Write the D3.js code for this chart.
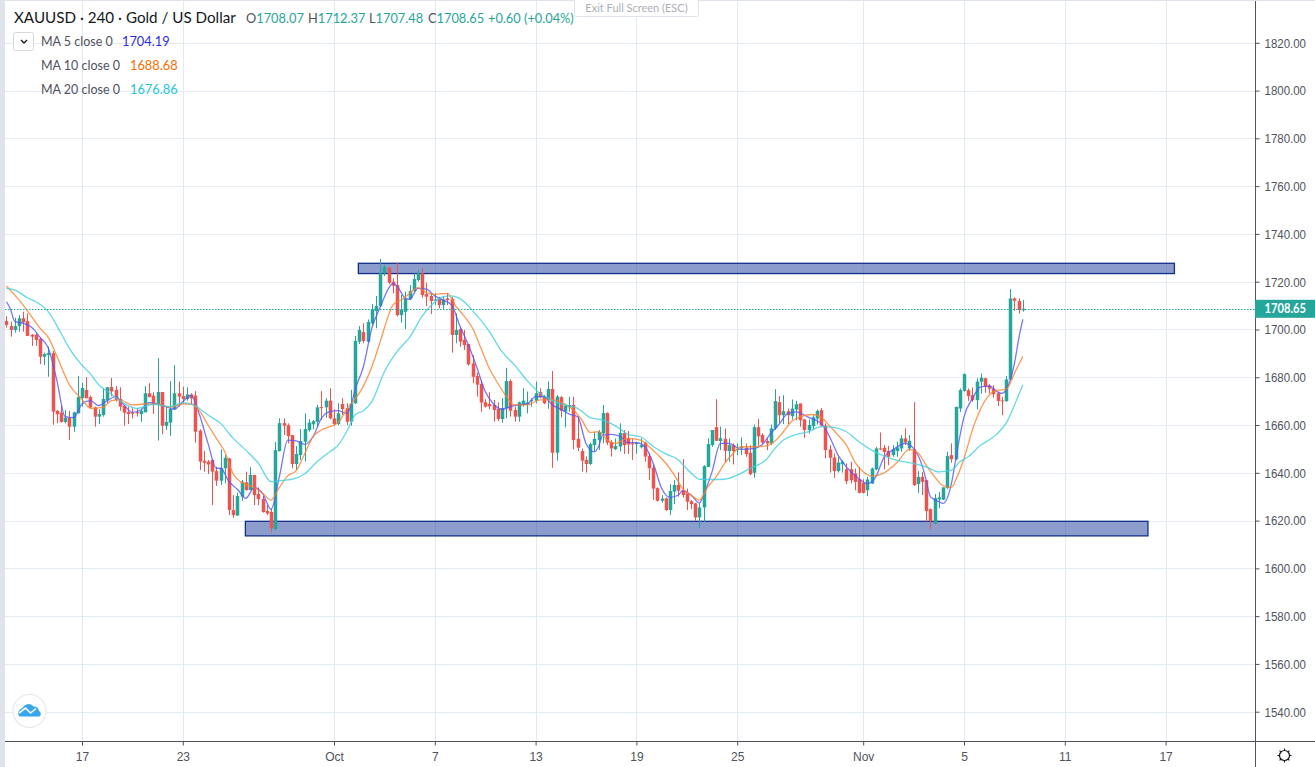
<!DOCTYPE html>
<html lang="en">
<head>
<meta charset="UTF-8">
<title>XAUUSD 240</title>
<script src="https://d3js.org/d3.v7.min.js"></script>
<style>
    html, body { margin: 0; padding: 0; background: #fff; overflow: hidden; }
    svg { display: block; font-family: Lato, "Open Sans", sans-serif; }
    .axis text { fill: #50535e; font-size: 12px; }
    .axis line { stroke: #50535e; }
</style>
</head>
<body>
<svg id="chart" width="1315" height="767"></svg>
<script>
// one value per 4h bar
const opens = [
1703.5,1701.4,1699.8,1701.4,1704.7,1703.5,1697.8,1697.8,1696.1,1688.6,
1689.3,1690.1,1665.9,1665.2,1661.3,1663.1,1659.3,1664.9,1671.3,1674.7,
1671.7,1667.4,1663.5,1664.2,1670.5,1675.9,1674.7,1670.9,1668.0,1665.4,
1665.2,1665.4,1664.6,1665.3,1673.3,1672.3,1668.4,1673.8,1659.7,1661.0,
1666.6,1673.3,1672.1,1670.9,1672.8,1672.3,1657.6,1645.0,1644.7,1645.4,
1640.7,1636.7,1641.9,1646.0,1624.4,1622.1,1630.0,1636.0,1632.8,1639.1,
1631.1,1629.0,1624.0,1623.6,1616.5,1649.1,1660.8,1659.9,1655.8,1643.7,
1647.4,1653.0,1657.9,1660.3,1661.3,1667.5,1667.4,1670.2,1662.8,1660.4,
1668.8,1667.1,1661.4,1669.1,1694.9,1698.9,1694.9,1702.6,1707.7,1709.8,
1723.5,1725.9,1720.0,1718.6,1706.0,1707.4,1712.7,1716.1,1720.7,1723.5,
1714.8,1714.0,1712.1,1713.0,1710.2,1713.0,1712.7,1697.7,1700.1,1695.6,
1693.9,1685.8,1680.5,1677.2,1669.5,1668.8,1668.4,1666.8,1662.5,1667.0,
1678.4,1666.3,1663.5,1668.4,1668.4,1670.2,1670.2,1673.8,1672.1,1670.5,
1675.1,1648.4,1671.7,1665.6,1667.4,1668.4,1654.2,1649.1,1645.4,1643.7,
1651.6,1653.7,1656.5,1665.0,1652.9,1649.9,1651.0,1656.7,1654.4,1652.3,
1652.0,1650.7,1652.6,1647.0,1642.1,1633.6,1628.3,1629.3,1624.4,1632.1,
1634.9,1632.7,1631.4,1628.1,1627.2,1621.3,1625.5,1642.5,1651.6,1659.1,
1653.3,1654.2,1649.1,1651.6,1649.5,1650.2,1650.5,1648.4,1640.0,1659.1,
1655.8,1653.3,1652.3,1658.6,1669.6,1664.1,1665.8,1663.7,1666.5,1669.0,
1662.3,1657.9,1659.5,1662.7,1666.2,1659.8,1649.8,1646.4,1640.7,1643.6,
1641.5,1641.5,1639.7,1637.3,1635.8,1632.7,1635.5,1641.4,1650.2,1650.5,
1649.1,1647.4,1649.1,1650.2,1654.4,1650.2,1649.8,1635.3,1638.3,1636.9,
1624.8,1618.8,1628.8,1628.8,1633.6,1647.4,1645.7,1666.9,1674.3,1674.6,
1672.5,1670.4,1678.1,1679.6,1676.6,1675.2,1673.3,1670.3,1670.0,1679.1,
1713.0,1711.9,1708.07];
const highs = [
1705.6,1703.3,1704.9,1706.0,1707.4,1706.7,1698.1,1698.4,1696.7,1690.3,
1692.8,1691.0,1666.3,1668.0,1666.3,1666.0,1665.6,1680.5,1677.7,1680.1,
1672.3,1667.7,1666.6,1675.4,1676.0,1679.7,1676.3,1675.8,1668.4,1667.7,
1667.0,1667.0,1666.6,1676.3,1677.5,1673.7,1688.0,1673.8,1667.7,1678.4,
1685.1,1678.2,1676.0,1675.8,1673.3,1674.2,1658.2,1649.1,1645.4,1645.6,
1642.6,1649.8,1647.4,1646.3,1630.7,1631.7,1637.0,1640.5,1642.3,1639.1,
1633.9,1630.3,1626.5,1625.1,1652.9,1662.8,1662.8,1660.7,1655.8,1651.2,
1658.3,1664.9,1662.5,1662.1,1668.4,1674.2,1671.2,1675.4,1666.6,1669.1,
1671.2,1669.1,1674.7,1697.3,1701.4,1702.6,1704.2,1710.7,1714.0,1729.5,
1727.0,1726.3,1721.4,1728.0,1714.4,1715.8,1718.6,1723.5,1724.9,1725.6,
1719.6,1715.1,1715.1,1713.7,1713.7,1715.1,1713.7,1706.7,1700.9,1699.8,
1693.9,1689.3,1681.9,1678.6,1670.8,1673.7,1670.5,1669.4,1671.2,1683.9,
1679.1,1667.7,1669.8,1675.4,1674.0,1671.2,1678.2,1675.4,1672.6,1678.2,
1682.6,1672.6,1672.1,1668.7,1671.9,1671.9,1663.8,1650.2,1646.8,1652.6,
1657.2,1657.9,1668.4,1665.3,1653.7,1654.4,1660.7,1657.9,1657.5,1654.4,
1653.0,1654.4,1653.0,1648.2,1643.3,1633.9,1630.7,1629.7,1635.2,1637.0,
1640.2,1645.7,1633.4,1628.6,1627.4,1627.2,1643.2,1654.4,1657.9,1670.8,
1659.3,1658.6,1654.4,1652.3,1652.3,1654.8,1652.3,1651.6,1660.2,1662.5,
1656.5,1654.4,1660.2,1675.0,1672.1,1672.5,1666.9,1670.7,1670.1,1669.0,
1662.6,1662.3,1664.1,1666.5,1667.1,1660.7,1651.6,1648.1,1646.7,1645.3,
1643.9,1644.6,1641.8,1642.5,1637.3,1638.3,1642.2,1650.9,1656.9,1651.6,
1651.3,1651.6,1653.0,1655.8,1658.6,1655.8,1669.6,1640.7,1640.4,1636.9,
1625.1,1631.1,1632.0,1633.9,1648.8,1652.3,1667.6,1675.3,1681.6,1675.3,
1675.7,1679.5,1681.6,1679.8,1677.1,1676.7,1673.9,1671.8,1680.5,1716.9,
1713.4,1713.0,1712.37];
const lows = [
1700.8,1697.0,1698.7,1699.1,1699.1,1697.3,1693.1,1693.1,1685.5,1685.1,
1680.2,1660.1,1660.7,1661.0,1660.7,1653.7,1657.2,1664.9,1667.7,1671.2,
1667.0,1659.3,1660.4,1663.5,1669.1,1672.1,1669.8,1666.0,1659.7,1660.4,
1662.8,1663.5,1661.4,1665.3,1671.6,1664.6,1653.5,1656.2,1657.9,1655.5,
1666.3,1667.7,1668.8,1670.2,1668.4,1652.6,1641.2,1640.5,1639.5,1626.5,
1634.5,1634.9,1635.6,1622.3,1621.2,1622.1,1628.3,1632.5,1632.8,1626.5,
1626.5,1623.3,1622.3,1615.0,1615.8,1648.9,1655.8,1652.3,1641.9,1641.2,
1645.4,1644.7,1657.2,1658.2,1659.3,1662.1,1663.1,1662.4,1659.6,1660.0,
1664.2,1660.0,1659.7,1668.8,1693.9,1694.2,1694.5,1701.9,1700.5,1709.5,
1722.4,1718.9,1715.1,1705.4,1702.8,1700.2,1712.3,1715.8,1720.0,1713.3,
1709.8,1706.5,1710.2,1708.8,1708.4,1710.2,1690.3,1694.2,1692.8,1691.4,
1684.8,1677.5,1671.9,1665.6,1667.3,1666.6,1661.4,1661.7,1661.0,1662.8,
1663.5,1661.4,1661.4,1667.7,1664.9,1667.7,1669.1,1671.2,1668.8,1666.8,
1642.1,1645.1,1663.2,1659.0,1665.6,1649.8,1649.1,1640.5,1640.1,1643.3,
1648.9,1649.5,1652.3,1651.6,1646.8,1649.5,1648.9,1647.9,1647.9,1645.4,
1647.9,1650.2,1644.7,1637.0,1628.6,1627.9,1627.5,1624.0,1622.3,1626.9,
1630.0,1629.7,1624.4,1624.8,1619.9,1617.0,1619.5,1642.5,1650.9,1653.3,
1649.5,1644.2,1644.6,1643.5,1647.4,1647.4,1646.7,1639.0,1637.9,1651.3,
1651.6,1649.5,1651.6,1657.9,1660.7,1660.4,1660.4,1662.3,1662.0,1659.3,
1654.6,1656.5,1658.3,1660.2,1659.3,1646.0,1640.1,1637.9,1640.1,1640.1,
1635.3,1635.5,1632.7,1631.4,1631.4,1630.2,1635.3,1641.1,1649.5,1641.5,
1643.2,1646.7,1646.7,1648.8,1651.6,1649.2,1634.6,1631.6,1630.7,1619.5,
1616.4,1618.5,1625.1,1628.6,1633.3,1644.2,1645.3,1665.5,1673.9,1670.1,
1669.7,1666.6,1673.2,1673.5,1673.2,1671.5,1668.0,1664.1,1669.7,1678.8,
1707.8,1706.7,1707.48];
const closes = [
1701.9,1699.8,1701.4,1704.7,1703.0,1697.3,1697.0,1695.6,1688.6,1689.7,
1690.1,1665.6,1664.5,1661.3,1663.1,1659.3,1665.3,1671.7,1675.5,1671.2,
1667.4,1663.5,1664.6,1670.9,1675.8,1674.1,1670.5,1667.7,1665.2,1664.6,
1664.9,1664.9,1665.9,1673.3,1671.7,1668.4,1673.8,1659.7,1661.3,1666.7,
1673.3,1671.9,1670.9,1672.8,1671.2,1657.2,1644.7,1644.2,1643.5,1640.5,
1636.7,1641.9,1646.3,1624.4,1622.3,1630.3,1636.3,1632.8,1639.1,1630.7,
1629.0,1623.6,1623.0,1616.8,1649.5,1660.8,1659.7,1655.4,1643.7,1647.9,
1653.3,1658.3,1661.0,1661.6,1667.4,1667.4,1670.2,1662.8,1660.4,1664.9,
1666.7,1661.4,1669.1,1695.2,1699.8,1695.2,1703.1,1708.4,1709.8,1723.5,
1726.0,1719.6,1718.3,1706.0,1708.4,1713.0,1716.1,1721.1,1723.5,1714.4,
1713.7,1711.9,1712.6,1710.2,1712.6,1712.3,1697.7,1699.8,1694.9,1693.5,
1685.4,1680.2,1676.9,1669.4,1667.7,1667.8,1666.3,1662.5,1667.1,1678.4,
1666.0,1663.5,1669.5,1670.2,1669.4,1670.5,1673.3,1671.6,1669.1,1675.1,
1648.4,1671.9,1665.9,1668.1,1668.4,1653.7,1650.5,1645.1,1643.7,1652.0,
1654.2,1657.1,1665.0,1652.6,1650.2,1651.2,1656.7,1651.6,1651.9,1651.9,
1652.6,1651.6,1646.8,1641.9,1633.4,1628.3,1629.2,1624.4,1632.4,1634.9,
1632.5,1630.7,1627.9,1626.9,1621.3,1625.5,1642.8,1652.0,1657.9,1653.4,
1654.5,1649.2,1651.6,1649.1,1649.9,1650.9,1647.8,1639.4,1659.1,1655.3,
1652.7,1652.3,1658.6,1670.0,1664.1,1665.8,1664.1,1666.9,1668.7,1662.0,
1657.9,1660.0,1663.2,1665.9,1659.8,1649.5,1646.3,1640.7,1644.3,1644.6,
1636.5,1636.9,1636.2,1631.6,1631.6,1637.2,1641.8,1650.2,1649.8,1648.7,
1646.7,1649.9,1650.6,1654.4,1652.7,1653.4,1634.8,1638.3,1636.2,1624.0,
1619.9,1629.4,1629.7,1633.9,1647.0,1645.7,1667.6,1674.6,1681.3,1672.1,
1670.4,1678.2,1679.8,1676.0,1675.2,1672.9,1670.1,1670.1,1679.1,1713.0,
1712.0,1708.1,1708.65];

// moving averages, read at the bars listed next to them
const ma5Bars = [0,1,2,4,6,8,10,12,14,16,18,20,22,24,26,28,30,32,34,36,38,40,42,44,46,48,50,51,53,55,57,59,61,63,65,67,69,71,73,75,77,79,81,82,83,85,87,89,91,92,93,95,96,98,100,102,104,106,108,110,112,114,116,118,120,122,124,126,128,130,132,134,136,138,140,141,142,144,146,148,150,152,154,156,158,160,161,163,165,166,168,170,172,175,178,180,182,184,186,188,191,194,196,198,200,202,205,207,209,211,214,216,218,219,220,222,223,225,226,227,228,230,232,234,236,237,238,239,240,241,242];
const ma5Values = [1711.6,1708.4,1703.3,1702.6,1700.9,1696.7,1692.1,1678.8,1663.5,1663.1,1668.8,1670.2,1668.1,1670.2,1671.9,1668.4,1665.3,1666.3,1669.4,1668.8,1667.7,1666.6,1669.8,1672.3,1664.2,1652.3,1641.9,1641.9,1636.3,1633.1,1629.3,1633.9,1631.4,1624.7,1638.4,1653.7,1653.4,1651.9,1655.1,1662.8,1665.6,1666.0,1664.9,1668.0,1674.7,1684.4,1700.5,1709.3,1717.2,1719.3,1718.2,1713.0,1712.6,1717.2,1716.9,1714.0,1712.3,1710.2,1701.4,1693.5,1684.2,1674.0,1668.8,1666.6,1667.7,1668.4,1668.8,1671.9,1671.9,1668.4,1666.6,1664.6,1663.5,1652.3,1648.8,1651.0,1655.8,1656.1,1655.4,1652.6,1652.6,1651.0,1644.0,1633.5,1629.7,1630.7,1632.5,1630.7,1627.4,1630.7,1640.4,1652.3,1652.3,1649.8,1650.2,1651.9,1656.5,1660.4,1664.8,1665.5,1663.2,1660.7,1655.1,1647.4,1642.5,1639.0,1635.5,1638.3,1646.7,1649.5,1652.3,1650.2,1643.2,1636.9,1630.0,1627.9,1627.2,1635.5,1645.3,1655.1,1663.4,1671.1,1676.0,1676.3,1673.9,1673.2,1674.6,1678.8,1685.7,1695.8,1704.19];

const ma10Bars = [0,2,4,6,8,10,12,15,18,20,23,25,27,30,33,36,39,42,44,46,48,50,52,54,56,59,61,63,65,67,69,71,73,75,77,79,81,83,85,87,89,91,92,94,96,98,100,102,104,105,107,109,111,113,115,117,119,121,124,127,130,133,135,137,139,141,143,145,148,151,153,155,157,159,160,161,163,165,167,169,171,173,175,178,181,183,185,187,189,192,194,196,198,200,202,204,206,209,212,215,217,219,221,223,225,226,228,230,232,234,236,238,240,242];
const ma10Values = [1718.2,1714.4,1710.2,1705.4,1700.5,1696.6,1688.9,1676.8,1670.8,1667.0,1667.4,1670.2,1670.5,1668.4,1668.8,1668.8,1667.4,1668.8,1668.8,1665.9,1660.0,1654.4,1648.8,1639.5,1636.0,1633.9,1631.4,1628.6,1633.9,1638.7,1640.9,1647.9,1655.1,1657.9,1659.3,1661.0,1666.6,1670.8,1676.3,1684.4,1694.9,1706.0,1710.2,1712.3,1715.1,1717.5,1715.4,1714.7,1715.0,1715.1,1709.8,1705.6,1700.5,1692.1,1683.7,1677.5,1672.1,1668.4,1668.4,1670.5,1670.5,1668.7,1666.3,1662.1,1656.9,1657.2,1653.7,1652.3,1654.4,1653.7,1651.0,1647.7,1644.0,1639.1,1636.3,1633.4,1630.7,1628.6,1634.1,1638.3,1643.9,1648.1,1650.9,1650.9,1651.3,1653.3,1657.2,1661.6,1663.4,1664.4,1663.2,1659.7,1655.8,1651.6,1644.6,1640.4,1638.6,1640.0,1644.2,1649.8,1648.4,1643.2,1638.3,1634.6,1633.9,1636.9,1646.0,1657.9,1666.9,1672.5,1674.6,1674.9,1681.6,1688.68];

const ma20Bars = [0,2,5,7,10,13,15,18,20,22,25,28,31,35,39,42,45,48,51,54,57,60,63,65,68,71,74,77,79,81,83,85,87,90,93,96,99,101,104,106,108,111,115,118,121,124,127,130,134,136,139,142,146,148,151,154,157,160,161,163,165,168,171,174,177,181,183,185,188,191,194,197,200,203,206,209,212,216,219,222,225,227,229,232,234,236,238,240,242];
const ma20Values = [1717.2,1716.5,1713.3,1711.6,1707.4,1698.4,1692.1,1685.1,1681.4,1676.8,1673.0,1669.1,1667.0,1668.7,1667.7,1669.4,1668.0,1664.2,1660.7,1654.4,1649.5,1644.0,1636.3,1636.7,1637.3,1639.5,1644.7,1648.8,1651.6,1657.2,1664.2,1666.0,1669.8,1682.3,1690.7,1696.7,1705.6,1709.8,1713.7,1714.1,1712.9,1707.9,1699.1,1690.7,1685.1,1678.6,1673.3,1670.2,1668.0,1667.0,1663.1,1662.1,1658.6,1656.1,1655.1,1651.0,1647.9,1645.4,1643.5,1640.0,1637.3,1637.2,1637.3,1639.0,1641.8,1645.7,1650.2,1653.7,1656.0,1657.2,1659.3,1659.0,1657.2,1653.0,1649.5,1647.0,1645.3,1643.9,1642.5,1640.4,1641.1,1644.6,1646.7,1651.6,1653.7,1656.5,1660.7,1668.3,1676.86];

// the two drawn zones: bar from, bar to, price top, price bottom
const zoneBarFrom = [83.8, 56.9];
const zoneBarTo = [278.1, 271.8];
const zoneTop = [1727.7, 1619.7];
const zoneBottom = [1723.4, 1613.6];

const priceTicks = [1540,1560,1580,1600,1620,1640,1660,1680,1700,1720,1740,1760,1780,1800,1820];
const timeTickBars = [18,42,78,102,126,150,174,204,228,252,276];
const timeTickLabels = ["17","23","Oct","7","13","19","25","Nov","5","11","17"];
const lastPrice = 1708.65;

const W = 1315, H = 767;
const plotLeft = 5, axisX = 1255, axisY = 741.5;
const upColor = "#26a69a", downColor = "#ef5350";

const x = d3.scaleLinear().domain([0, 276]).range([6.4, 1165.6]);
const y = d3.scaleLinear().domain([1540, 1820]).range([711.7, 42.8]);

const svg = d3.select("#chart");
svg.append("defs").append("clipPath").attr("id", "plot")
    .append("rect").attr("x", plotLeft).attr("y", 0)
    .attr("width", axisX - plotLeft).attr("height", axisY);

// grid
svg.append("g").selectAll("line").data(priceTicks).enter().append("line")
    .attr("x1", plotLeft).attr("x2", axisX)
    .attr("y1", d => Math.round(y(d)) + 0.5).attr("y2", d => Math.round(y(d)) + 0.5)
    .attr("stroke", "#e5ecf3");
svg.append("g").selectAll("line").data(timeTickBars).enter().append("line")
    .attr("y1", 0).attr("y2", axisY)
    .attr("x1", d => Math.round(x(d)) + 0.5).attr("x2", d => Math.round(x(d)) + 0.5)
    .attr("stroke", "#e2ebf4");

const plot = svg.append("g").attr("clip-path", "url(#plot)");

// zones sit under the candles
plot.append("g").selectAll("rect").data(zoneTop).enter().append("rect")
    .attr("x", (d, i) => x(zoneBarFrom[i]))
    .attr("width", (d, i) => x(zoneBarTo[i]) - x(zoneBarFrom[i]))
    .attr("y", d => y(d))
    .attr("height", (d, i) => y(zoneBottom[i]) - y(d))
    .attr("fill", "#1a3a9a").attr("fill-opacity", 0.5)
    .attr("stroke", "#12308a").attr("stroke-width", 1.3);

// candles
const bars = d3.range(opens.length);
plot.append("g").selectAll("line").data(bars).enter().append("line")
    .attr("x1", i => Math.round(x(i)) + 0.5).attr("x2", i => Math.round(x(i)) + 0.5)
    .attr("y1", i => y(highs[i])).attr("y2", i => y(lows[i]))
    .attr("stroke", i => closes[i] >= opens[i] ? upColor : downColor);
plot.append("g").selectAll("rect").data(bars).enter().append("rect")
    .attr("x", i => Math.round(x(i)) - 1.25)
    .attr("width", 3.5)
    .attr("y", i => y(Math.max(opens[i], closes[i])))
    .attr("height", i => Math.max(1, Math.abs(y(opens[i]) - y(closes[i]))))
    .attr("fill", i => closes[i] >= opens[i] ? upColor : downColor);

// moving averages
const maLines = [
    { bars: ma5Bars, values: ma5Values, color: "#5555ff" },
    { bars: ma10Bars, values: ma10Values, color: "#ff7f2a" },
    { bars: ma20Bars, values: ma20Values, color: "#3fd0e0" }
];
const maPath = d3.line().x(d => x(d[0])).y(d => y(d[1])).curve(d3.curveMonotoneX);
maLines.forEach(m => {
    plot.append("path")
        .attr("d", maPath(m.bars.map((b, k) => [b, m.values[k]])))
        .attr("fill", "none").attr("stroke", m.color)
        .attr("stroke-width", 1.3).attr("stroke-opacity", 0.8);
});

// last price line
svg.append("line")
    .attr("x1", plotLeft).attr("x2", axisX)
    .attr("y1", Math.round(y(lastPrice)) + 0.5).attr("y2", Math.round(y(lastPrice)) + 0.5)
    .attr("stroke", upColor).attr("stroke-dasharray", "1.5 1.5");

// axes
const yAxis = svg.append("g").attr("class", "axis")
    .attr("transform", `translate(${axisX + 0.5},0)`)
    .call(d3.axisRight(y).tickValues(priceTicks).tickFormat(d => d.toFixed(2)).tickSize(4).tickPadding(5));
yAxis.select(".domain").remove();
// the price labels are narrower than Lato sets them, so squeeze to the measured width
yAxis.selectAll("text").attr("dy", "0.35em").style("font-size", "12.5px")
    .attr("textLength", 41.5).attr("lengthAdjust", "spacingAndGlyphs");
const xAxis = svg.append("g").attr("class", "axis")
    .attr("transform", `translate(0,${axisY})`)
    .call(d3.axisBottom(x).tickValues(timeTickBars).tickFormat((d, i) => timeTickLabels[i]).tickSize(4).tickPadding(7));
xAxis.select(".domain").remove();
xAxis.selectAll("text").style("font-size", "12px");
svg.append("line").attr("x1", plotLeft).attr("x2", W).attr("y1", axisY).attr("y2", axisY).attr("stroke", "#50535e");
svg.append("line").attr("x1", axisX + 0.5).attr("x2", axisX + 0.5).attr("y1", 0).attr("y2", H).attr("stroke", "#50535e");

// last price label
svg.append("rect").attr("x", axisX).attr("y", y(lastPrice) - 9).attr("width", W - axisX).attr("height", 18).attr("fill", upColor);
svg.append("text").attr("x", 1264.5).attr("y", y(lastPrice) + 4.5)
    .attr("fill", "#fff").attr("font-size", 12.5).attr("font-weight", 700)
    .attr("textLength", 41.5).attr("lengthAdjust", "spacingAndGlyphs").text(lastPrice.toFixed(2));

// window edges
svg.append("rect").attr("x", 0).attr("y", 0).attr("width", plotLeft).attr("height", H).attr("fill", "#e0e3eb");
svg.append("rect").attr("x", 0).attr("y", 0).attr("width", W).attr("height", 1).attr("fill", "#e0e3eb");

// legend
function label(xp, yp, txt, color, size) {
    return svg.append("text").attr("x", xp).attr("y", yp).attr("fill", color).attr("font-size", size).text(txt);
}
label(14, 23, "XAUUSD · 240 · Gold / US Dollar", "#131722", 15.2);
const ohlc = [["O", "1708.07", 246], ["H", "1712.37", 308], ["L", "1707.48", 369], ["C", "1708.65", 428]];
ohlc.forEach(d => {
    const t = label(d[2], 23, "", "#50535e", 12.8);
    t.append("tspan").text(d[0]);
    t.append("tspan").attr("fill", upColor).text(d[1]);
});
label(488, 23, "+0.60 (+0.04%)", upColor, 12.8);

const maNames = ["MA 5 close 0", "MA 10 close 0", "MA 20 close 0"];
const maLast = ["1704.19", "1688.68", "1676.86"];
const maColors = ["#2a2aff", "#ff6d00", "#22c5dd"];
const maNameX = [122, 130, 130];
maNames.forEach((n, i) => {
    label(41, 46 + i * 24, n, "#50535e", 12.5);
    label(maNameX[i], 46 + i * 24, maLast[i], maColors[i], 12.8);
});
svg.append("rect").attr("x", 13.5).attr("y", 32.5).attr("width", 20).attr("height", 18).attr("rx", 2)
    .attr("fill", "#fff").attr("stroke", "#d6d8de");
svg.append("path").attr("d", "M21 40 L24 43 L27 40").attr("fill", "none").attr("stroke", "#131722").attr("stroke-width", 1.3);

// exit full screen hint
svg.append("rect").attr("x", 574.5).attr("y", -3).attr("width", 124).attr("height", 19.5).attr("rx", 2)
    .attr("fill", "#fff").attr("stroke", "#e0e3eb");
svg.append("text").attr("x", 636.5).attr("y", 12).attr("text-anchor", "middle")
    .attr("fill", "#aeb0b8").attr("font-size", 11).text("Exit Full Screen (ESC)");

// logo
svg.append("circle").attr("cx", 29.5).attr("cy", 711).attr("r", 16.5).attr("fill", "#fff").attr("stroke", "#e6e8ec").attr("stroke-width", 1.2);
svg.append("path")
    .attr("d", "M19.5 716.5 a4.5 4.5 0 0 1 0 -6.5 q1 -1.5 3 -2 a6.5 6.5 0 0 1 11 -1.5 a5 5 0 0 1 5.5 4.5 a3.2 3.2 0 0 1 0.5 5.5 z")
    .attr("fill", "#37a6ef");
svg.append("path").attr("d", "M19 713 L25.5 708 L30.5 713 L36 708.5").attr("fill", "none").attr("stroke", "#fff").attr("stroke-width", 1.6);

// settings icon
svg.append("circle").attr("cx", 1284.5).attr("cy", 755.5).attr("r", 5).attr("fill", "none").attr("stroke", "#131722").attr("stroke-width", 1.2);
svg.append("g").selectAll("line").data(d3.range(8)).enter().append("line")
    .attr("x1", d => 1284.5 + 5 * Math.cos(d * Math.PI / 4)).attr("y1", d => 755.5 + 5 * Math.sin(d * Math.PI / 4))
    .attr("x2", d => 1284.5 + 7 * Math.cos(d * Math.PI / 4)).attr("y2", d => 755.5 + 7 * Math.sin(d * Math.PI / 4))
    .attr("stroke", "#131722").attr("stroke-width", 1.1);
</script>
</body>
</html>
